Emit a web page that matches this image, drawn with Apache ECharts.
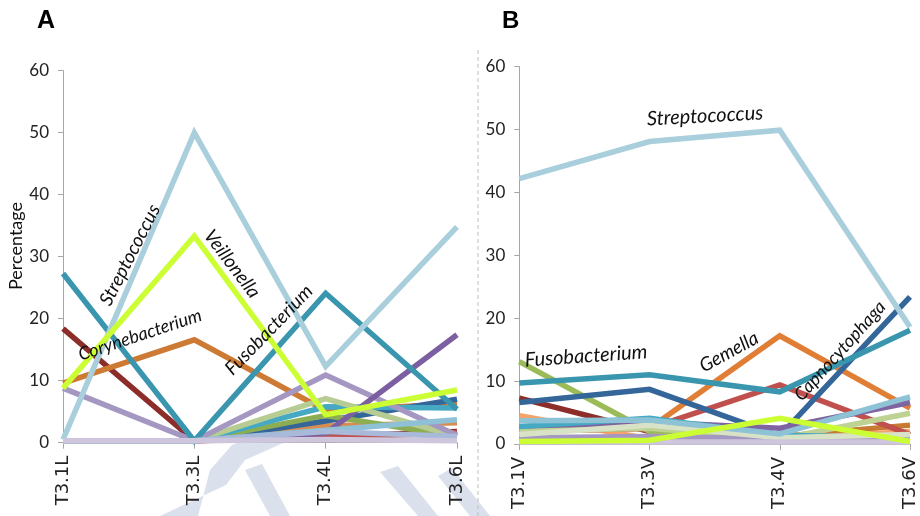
<!DOCTYPE html>
<html>
<head>
<meta charset="utf-8">
<script src="https://cdn.jsdelivr.net/npm/echarts@6/dist/echarts.min.js"></script>
<style>html,body{margin:0;padding:0;background:#fff}#c{width:920px;height:516px}</style>
</head>
<body>
<div id="c"></div>
<script>
// ---- categories ----
const catsA = ['T3.1L', 'T3.3L', 'T3.4L', 'T3.6L'];
const catsB = ['T3.1V', 'T3.3V', 'T3.4V', 'T3.6V'];
const yTicks = [0, 10, 20, 30, 40, 50, 60];

// ---- Panel A series (percentage) ----
const A_darkRed      = [18.4, 0.3, 1.0, 1.8];
const A_redEnd       = [0.3, 0.3, 0.8, 1.6];
const A_teal         = [27.3, 0.3, 24.1, 5.4];
const A_corynebact   = [9.6, 16.6, 5.2, 6.3];
const A_lightOrange  = [0.3, 0.3, 2.7, 3.2];
const A_darkBlue     = [0.3, 0.3, 3.5, 7.0];
const A_olive        = [0.3, 0.3, 4.4, 1.0];
const A_cyan         = [0.3, 0.3, 5.8, 5.6];
const A_lightOlive   = [0.3, 0.3, 7.1, 1.0];
const A_purple       = [0.3, 0.3, 1.5, 17.4];
const A_lilac        = [8.8, 0.3, 10.9, 1.2];
const A_lightBlue2   = [0.3, 0.3, 2.0, 3.7];
const A_steel        = [0.3, 0.3, 1.8, 1.0];
const A_strepto      = [0.5, 50.0, 12.3, 34.8];
const A_veillonella  = [8.8, 33.3, 4.5, 8.5];
const A_paleLavender = [0.3, 0.3, 0.5, 0.3];

// ---- Panel B series (percentage) ----
const B_darkRed      = [7.3, 2.0, 1.0, 1.0];
const B_fusobact     = [13.1, 2.0, 1.0, 1.0];
const B_brown        = [1.0, 1.0, 1.2, 3.0];
const B_lightOrange  = [4.5, 0.8, 0.8, 2.0];
const B_gemella      = [2.0, 2.5, 17.2, 5.7];
const B_red          = [2.0, 2.5, 9.4, 1.5];
const B_darkBlue     = [6.6, 8.7, 1.3, 23.4];
const B_teal         = [9.7, 11.0, 8.3, 18.1];
const B_purple       = [2.3, 3.5, 2.5, 6.6];
const B_lightOlive   = [2.0, 2.5, 0.8, 4.9];
const B_cyan         = [2.8, 4.1, 1.4, 1.0];
const B_pale         = [1.5, 3.0, 1.0, 1.5];
const B_lilac        = [1.0, 1.2, 0.8, 0.8];
const B_lightBlue    = [3.7, 3.8, 1.6, 7.5];
const B_strepto      = [42.2, 48.1, 49.9, 18.6];
const B_paleLavender = [0.3, 0.3, 0.3, 0.3];
const B_veillonella  = [0.4, 0.6, 4.1, 0.4];

const seriesA = [
  ['darkRed', A_darkRed, '#8C2D2A'],
  ['redEnd', A_redEnd, '#C0504D'],
  ['corynebacterium', A_corynebact, '#CD7A35'],
  ['lightOrange', A_lightOrange, '#D88D4E'],
  ['darkBlue', A_darkBlue, '#35669A'],
  ['olive', A_olive, '#8DAD52'],
  ['cyan', A_cyan, '#46A9C3'],
  ['lightOlive', A_lightOlive, '#B7CC93'],
  ['lilac', A_lilac, '#A497C2'],
  ['purple', A_purple, '#7B5FA0'],
  ['teal', A_teal, '#3A96AE'],
  ['lightBlue2', A_lightBlue2, '#8EC1D5'],
  ['steel', A_steel, '#A9B9D9'],
  ['Streptococcus', A_strepto, '#A9CEDC'],
  ['Veillonella', A_veillonella, '#CCFF33'],
  ['paleLavender', A_paleLavender, '#CEC6DC']
];
const seriesB = [
  ['darkRed', B_darkRed, '#8C2D2A'],
  ['Fusobacterium', B_fusobact, '#9BBB59'],
  ['brown', B_brown, '#C77A30'],
  ['lightOrange', B_lightOrange, '#F5A36A'],
  ['Gemella', B_gemella, '#E07E35'],
  ['red', B_red, '#C0504D'],
  ['darkBlue', B_darkBlue, '#35669A'],
  ['teal', B_teal, '#3A96AE'],
  ['purple', B_purple, '#8064A2'],
  ['lightOlive', B_lightOlive, '#BED294'],
  ['cyan', B_cyan, '#46A9C3'],
  ['lilac', B_lilac, '#A497C2'],
  ['pale', B_pale, '#D8E2C6'],
  ['lightBlue', B_lightBlue, '#8EC3D6'],
  ['Streptococcus', B_strepto, '#A9CEDC'],
  ['paleLavender', B_paleLavender, '#CEC6DC'],
  ['Veillonella', B_veillonella, '#CCFF33']
];

function mk(list, idx) {
  return list.map(([name, data, color]) => ({
    name, type: 'line', xAxisIndex: idx, yAxisIndex: idx, data,
    symbol: 'none', clip: false, silent: true,
    lineStyle: { color, width: 5.5, cap: 'butt', join: 'miter' }
  }));
}

const axisCol = '#A6A6A6';
function yAx(idx) {
  return {
    type: 'value', gridIndex: idx, min: 0, max: 60, interval: 10,
    axisLine: { show: true, lineStyle: { color: axisCol, width: 1 } },
    axisTick: { show: true, length: 5, lineStyle: { color: axisCol } },
    splitLine: { show: false },
    axisLabel: { fontSize: 17, color: '#222', margin: 14, fontFamily: 'Lato',
      formatter: v => yTicks.includes(v) ? String(v) : '' }
  };
}
function xAx(idx, cats) {
  return {
    type: 'category', gridIndex: idx, data: cats, boundaryGap: false,
    axisLine: { show: true, lineStyle: { color: axisCol, width: 1 } },
    axisTick: { show: true, length: 6, lineStyle: { color: axisCol } },
    axisLabel: { rotate: 90, fontSize: 18, color: '#222', margin: 13, fontFamily: 'DejaVu Sans' }
  };
}

const txt = (text, x, y, deg, size) => ({
  type: 'text', x, y, rotation: deg * Math.PI / 180, z: 100,
  style: { text, fill: '#111', font: 'italic ' + (size || 19) + 'px Lato',
    textAlign: 'center', textVerticalAlign: 'middle' }
});
const wm = (pts) => ({ type: 'polygon', z: -10, silent: true,
  shape: { points: pts }, style: { fill: '#D3DAE9', opacity: 0.85 } });

const chart = echarts.init(document.getElementById('c'), null, { renderer: 'canvas' });
chart.setOption({
  animation: false,
  backgroundColor: '#fff',
  grid: [
    { left: 63, top: 70.7, width: 394, height: 372 },
    { left: 519.3, top: 66.7, width: 390.7, height: 377.3 }
  ],
  xAxis: [xAx(0, catsA), xAx(1, catsB)],
  yAxis: [yAx(0), yAx(1)],
  series: [...mk(seriesA, 0), ...mk(seriesB, 1)],
  graphic: [
    wm([[160,516],[198,516],[210,470],[232,445],[280,425],[345,410],[350,422],[290,440],[245,460],[226,485]]),
    wm([[245,470],[262,464],[290,516],[270,516]]),
    wm([[380,472],[398,466],[438,516],[418,516]]),
    wm([[438,476],[452,468],[490,516],[470,516]]),
    { type: 'line', z: 5, shape: { x1: 478, y1: 50, x2: 478, y2: 516 },
      style: { stroke: '#BDBDBD', lineWidth: 1, lineDash: [4, 3] } },
    { type: 'text', x: 37, y: 9, z: 100, style: { text: 'A', fill: '#000', font: 'bold 25px "Liberation Sans"' } },
    { type: 'text', x: 502, y: 9, z: 100, style: { text: 'B', fill: '#000', font: 'bold 24px "Liberation Sans"' } },
    { type: 'text', x: 16, y: 246, rotation: Math.PI / 2, z: 100,
      style: { text: 'Percentage', fill: '#111', font: '18px Lato', textAlign: 'center', textVerticalAlign: 'middle' } },
    txt('Streptococcus', 130, 255, 63),
    txt('Veillonella', 232, 264, -53),
    txt('Corynebacterium', 140, 335, 18.4, 18),
    txt('Fusobacterium', 269, 330, 46),
    txt('Streptococcus', 705, 116, 3, 20),
    txt('Fusobacterium', 586, 356, 4, 20),
    txt('Gemella', 729, 352, 28.5),
    txt('Capnocytophaga', 840, 351, 48, 18)
  ]
});
</script>
</body>
</html>
